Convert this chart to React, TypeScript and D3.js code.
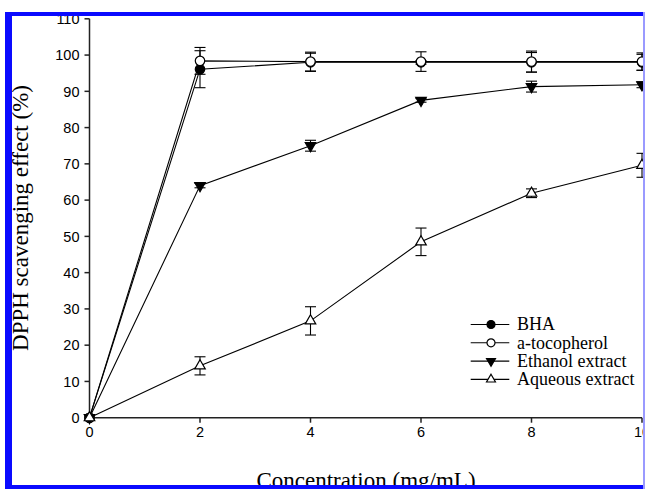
import * as d3 from "d3";

// concentration (mg/mL)
const conc = [0, 2, 4, 6, 8, 10];

// DPPH scavenging effect (%), mean and error
const bha = [0, 96.1, 98.0, 98.0, 98.0, 98.0];
const bhaErr = [0, 5.1, 2.5, 0.5, 2.7, 2.2];
const toco = [0, 98.4, 98.2, 98.2, 98.2, 98.2];
const tocoErr = [0, 3.7, 2.6, 2.7, 2.9, 2.4];
const ethanol = [0, 64.0, 75.0, 87.5, 91.3, 91.8];
const ethanolErr = [0, 0.6, 1.5, 0.5, 1.5, 0.8];
const aqueous = [0, 14.3, 26.7, 48.5, 61.9, 69.6];
const aqueousErr = [0, 2.5, 3.9, 3.8, 1.2, 3.3];

const xTicks = [0, 2, 4, 6, 8, 10];
const yTicks = [0, 10, 20, 30, 40, 50, 60, 70, 80, 90, 100, 110];

type Series = {
  name: string;
  values: number[];
  err: number[];
  shape: "circle" | "tri-down" | "tri-up";
  filled: boolean;
};

const series: Series[] = [
  { name: "BHA", values: bha, err: bhaErr, shape: "circle", filled: true },
  { name: "a-tocopherol", values: toco, err: tocoErr, shape: "circle", filled: false },
  { name: "Ethanol extract", values: ethanol, err: ethanolErr, shape: "tri-down", filled: true },
  { name: "Aqueous extract", values: aqueous, err: aqueousErr, shape: "tri-up", filled: false },
];

const W = 645;
const H = 489;

const x = d3.scaleLinear().domain([0, 10]).range([89.5, 642]);
const y = d3.scaleLinear().domain([0, 110]).range([417.7, 18.8]);

function markerPath(shape: Series["shape"], small = false) {
  const k = small ? 0.85 : 1;
  if (shape === "circle") return d3.symbol(d3.symbolCircle, 70 * k * k)()!;
  return d3.symbol(d3.symbolTriangle, 48 * k * k)()!;
}

function Marker({ s, cx, cy, small }: { s: Series; cx: number; cy: number; small?: boolean }) {
  const rot = s.shape === "tri-down" ? 180 : 0;
  return (
    <path
      d={markerPath(s.shape, small)}
      transform={`translate(${cx},${cy}) rotate(${rot})`}
      fill={s.filled ? "#000" : "#fff"}
      stroke="#000"
      strokeWidth={1.2}
    />
  );
}

export default function App() {
  const line = d3
    .line<number>()
    .x((_, i) => x(conc[i]))
    .y((d) => y(d));

  const capW = 5.5;

  return (
    <svg width={W} height={H} style={{ display: "block" }}>
      <style>{`body{margin:0}`}</style>
      <rect width={W} height={H} fill="#fff" />

      {/* axes */}
      <g stroke="#222" strokeWidth={1.5} fill="none">
        <line x1={x(0)} x2={x(10)} y1={y(0)} y2={y(0)} />
        <line x1={x(0)} x2={x(0)} y1={y(0)} y2={y(110)} />
        {xTicks.map((t) => (
          <line key={"xt" + t} x1={x(t)} x2={x(t)} y1={y(0)} y2={y(0) + 5} />
        ))}
        {yTicks.map((t) => (
          <line key={"yt" + t} x1={x(0) - 5} x2={x(0)} y1={y(t)} y2={y(t)} />
        ))}
      </g>
      <g fontFamily="Liberation Sans, Arial, sans-serif" fontSize={14.5} fill="#000">
        {xTicks.map((t) => (
          <text key={"xl" + t} x={x(t)} y={y(0) + 19.5} textAnchor="middle">
            {t}
          </text>
        ))}
        {yTicks.map((t) => (
          <text key={"yl" + t} x={x(0) - 10} y={y(t)} dy="0.36em" textAnchor="end">
            {t}
          </text>
        ))}
      </g>

      {/* lines */}
      {series.map((s) => (
        <path key={"l" + s.name} d={line(s.values)!} fill="none" stroke="#000" strokeWidth={1.1} />
      ))}

      {/* error bars */}
      {series.map((s) =>
        s.values.map((v, i) =>
          s.err[i] > 0 ? (
            <g key={"e" + s.name + i} stroke="#000" strokeWidth={1.1}>
              <line x1={x(conc[i])} x2={x(conc[i])} y1={y(v - s.err[i])} y2={y(v + s.err[i])} />
              <line x1={x(conc[i]) - capW} x2={x(conc[i]) + capW} y1={y(v - s.err[i])} y2={y(v - s.err[i])} />
              <line x1={x(conc[i]) - capW} x2={x(conc[i]) + capW} y1={y(v + s.err[i])} y2={y(v + s.err[i])} />
            </g>
          ) : null
        )
      )}

      {/* markers */}
      {series.map((s) =>
        s.values.map((v, i) => <Marker key={"m" + s.name + i} s={s} cx={x(conc[i])} cy={y(v)} />)
      )}

      {/* legend */}
      <g fontFamily="Liberation Serif, Times New Roman, serif" fontSize={18}>
        {series.map((s, i) => {
          const ly = 324.5 + i * 18.3;
          return (
            <g key={"lg" + s.name}>
              <line x1={470.7} x2={509.3} y1={ly} y2={ly} stroke="#000" strokeWidth={1.1} />
              <Marker s={s} cx={491} cy={ly} small />
              <text x={517} y={ly} dy="0.33em">
                {s.name}
              </text>
            </g>
          );
        })}
      </g>

      {/* axis titles */}
      <text
        x={366}
        y={488}
        textAnchor="middle"
        fontFamily="Liberation Serif, Times New Roman, serif"
        fontSize={23}
      >
        Concentration (mg/mL)
      </text>
      <text
        transform="translate(28,218) rotate(-90)"
        textAnchor="middle"
        fontFamily="Liberation Serif, Times New Roman, serif"
        fontSize={23}
      >
        DPPH scavenging effect (%)
      </text>

      {/* blue frame */}
      <g fill="#0a0aff">
        <rect x={5} y={12} width={7} height={477} />
        <rect x={5} y={12} width={640} height={4} />
        <rect x={5} y={485} width={640} height={4} />
      </g>
      <rect x={643} y={12} width={2} height={477} fill="#9a9aff" />
    </svg>
  );
}
